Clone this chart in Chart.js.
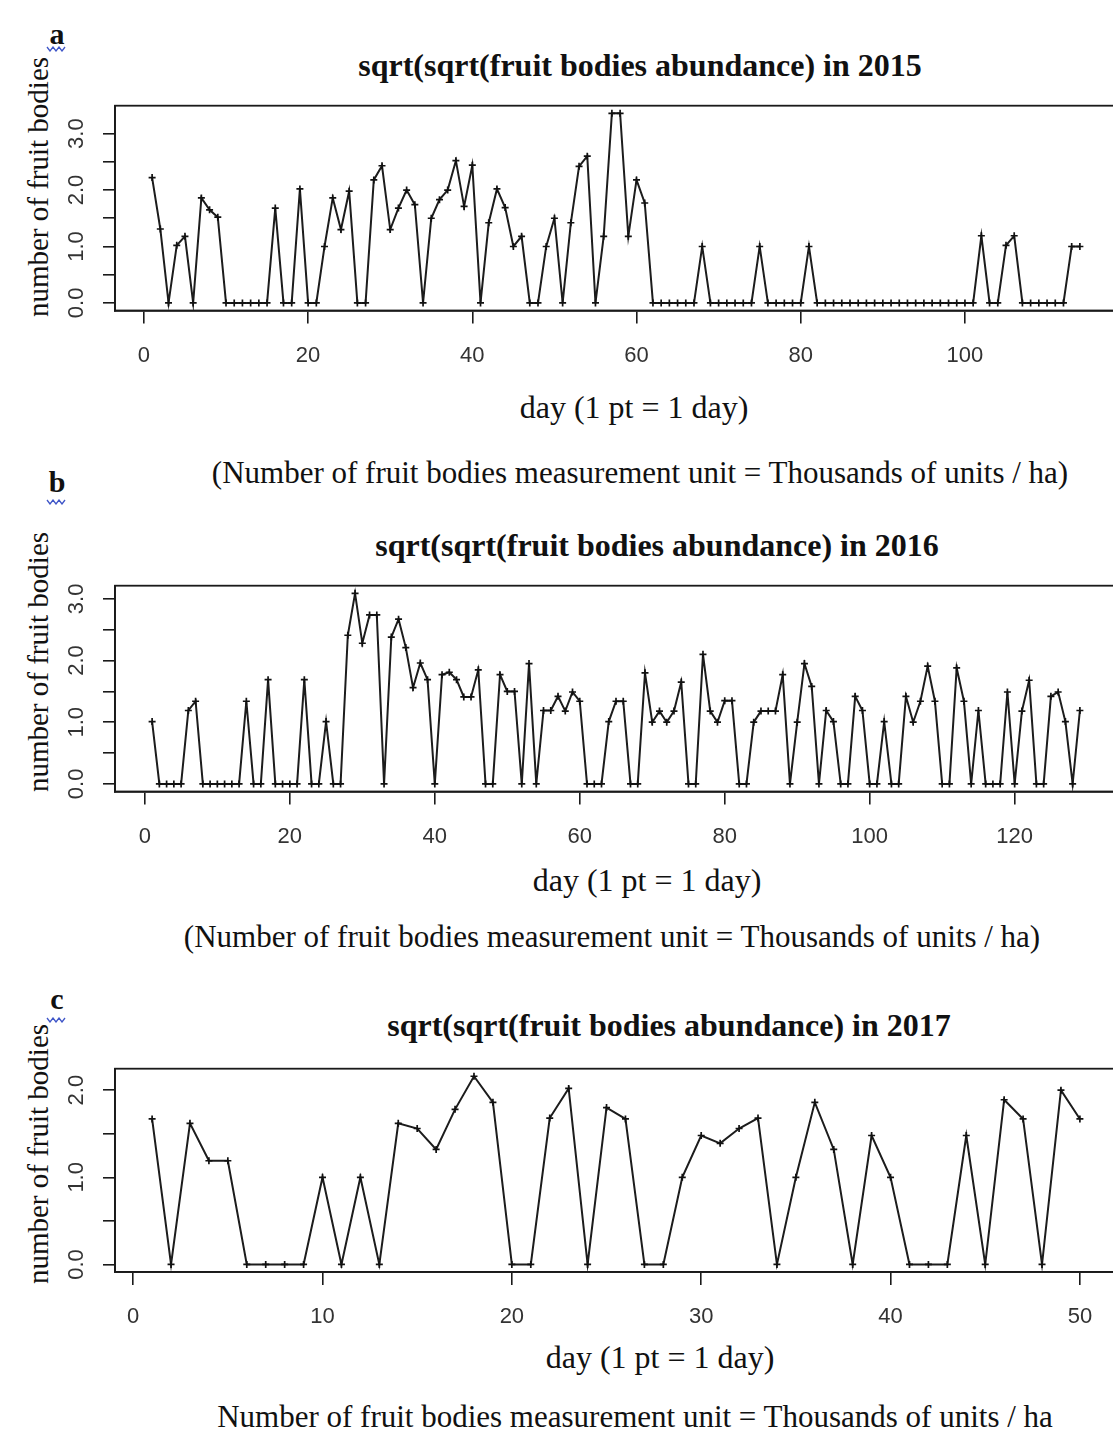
<!DOCTYPE html>
<html>
<head>
<meta charset="utf-8">
<script src="https://cdn.jsdelivr.net/npm/chart.js@4.4.1/dist/chart.umd.min.js"></script>
<style>
  html, body { margin: 0; padding: 0; background: #fff; }
  body { width: 1113px; height: 1437px; position: relative; overflow: hidden; }
  canvas { position: absolute; left: 0; }
  .t { position: absolute; transform: translate(-50%, -50%); white-space: nowrap;
       font-family: "Liberation Serif", "Times New Roman", serif; color: #111; }
  .title { font-weight: bold; font-size: 32px; }
  .panel { font-weight: bold; font-size: 30px; }
  .xlab { font-size: 32px; }
  .note { font-size: 31px; }
  .ylab { font-size: 29px; transform: translate(-50%, -50%) rotate(-90deg); }
  svg.sq { position: absolute; }
</style>
</head>
<body>

<div class="t panel" style="left:57px; top:34px">a</div>
<svg class="sq" style="left:46px; top:46px" width="22" height="6"><polyline points="1,1 4,5 7,1 10,5 13,1 16,5 19,1" fill="none" stroke="#3f56c8" stroke-width="1.3"/></svg>
<div class="t title" style="left:640px; top:65px">sqrt(sqrt(fruit bodies abundance) in 2015</div>
<div class="t ylab" style="left:38px; top:187px">number of fruit bodies</div>
<div class="t xlab" style="left:634px; top:407px">day (1 pt = 1 day)</div>
<div class="t note" style="left:640px; top:473px">(Number of fruit bodies measurement unit = Thousands of units / ha)</div>
<canvas id="chartA" width="1130" height="290" style="top:100px"></canvas>

<div class="t panel" style="left:57px; top:482px">b</div>
<svg class="sq" style="left:46px; top:499px" width="22" height="6"><polyline points="1,1 4,5 7,1 10,5 13,1 16,5 19,1" fill="none" stroke="#3f56c8" stroke-width="1.3"/></svg>
<div class="t title" style="left:657px; top:545px">sqrt(sqrt(fruit bodies abundance) in 2016</div>
<div class="t ylab" style="left:38px; top:662px">number of fruit bodies</div>
<div class="t xlab" style="left:647px; top:880px">day (1 pt = 1 day)</div>
<div class="t note" style="left:612px; top:937px">(Number of fruit bodies measurement unit = Thousands of units / ha)</div>
<canvas id="chartB" width="1130" height="290" style="top:580px"></canvas>

<div class="t panel" style="left:57px; top:999px">c</div>
<svg class="sq" style="left:46px; top:1017px" width="22" height="6"><polyline points="1,1 4,5 7,1 10,5 13,1 16,5 19,1" fill="none" stroke="#3f56c8" stroke-width="1.3"/></svg>
<div class="t title" style="left:669px; top:1025px">sqrt(sqrt(fruit bodies abundance) in 2017</div>
<div class="t ylab" style="left:38px; top:1154px">number of fruit bodies</div>
<div class="t xlab" style="left:660px; top:1357px">day (1 pt = 1 day)</div>
<div class="t note" style="left:635px; top:1417px">Number of fruit bodies measurement unit = Thousands of units / ha</div>
<canvas id="chartC" width="1130" height="290" style="top:1063px"></canvas>

<script>
// daily values, sqrt(sqrt(abundance)), one entry per day starting at day 1
const abundance2015 = [
  2.22, 1.31, 0, 1.02, 1.18, 0, 1.86, 1.65, 1.52, 0,
  0, 0, 0, 0, 0, 1.68, 0, 0, 2.02, 0,
  0, 1.0, 1.86, 1.3, 1.98, 0, 0, 2.18, 2.43, 1.3,
  1.68, 2.0, 1.74, 0, 1.5, 1.83, 2.0, 2.52, 1.71, 2.44,
  0, 1.42, 2.02, 1.69, 1.0, 1.18, 0, 0, 1.0, 1.5,
  0, 1.42, 2.42, 2.6, 0, 1.18, 3.36, 3.36, 1.18, 2.18,
  1.77, 0, 0, 0, 0, 0, 0, 1.0, 0, 0,
  0, 0, 0, 0, 1.0, 0, 0, 0, 0, 0,
  1.0, 0, 0, 0, 0, 0, 0, 0, 0, 0,
  0, 0, 0, 0, 0, 0, 0, 0, 0, 0,
  0, 1.19, 0, 0, 1.02, 1.19, 0, 0, 0, 0,
  0, 0, 1.0, 1.0
];
const abundance2016 = [
  1.01, 0, 0, 0, 0, 1.19, 1.34, 0, 0, 0,
  0, 0, 0, 1.34, 0, 0, 1.69, 0, 0, 0,
  0, 1.69, 0, 0, 1.01, 0, 0, 2.41, 3.09, 2.28,
  2.74, 2.74, 0, 2.38, 2.67, 2.21, 1.56, 1.96, 1.69, 0,
  1.77, 1.81, 1.69, 1.41, 1.41, 1.85, 0, 0, 1.77, 1.5,
  1.5, 0, 1.95, 0, 1.19, 1.19, 1.42, 1.18, 1.49, 1.34,
  0, 0, 0, 1.01, 1.34, 1.34, 0, 0, 1.8, 1.0,
  1.18, 1.0, 1.18, 1.65, 0, 0, 2.1, 1.18, 1.0, 1.35,
  1.35, 0, 0, 1.0, 1.18, 1.18, 1.18, 1.77, 0, 1.0,
  1.95, 1.58, 0, 1.19, 1.01, 0, 0, 1.42, 1.19, 0,
  0, 1.01, 0, 0, 1.42, 1.0, 1.34, 1.91, 1.34, 0,
  0, 1.88, 1.34, 0, 1.19, 0, 0, 0, 1.49, 0,
  1.18, 1.68, 0, 0, 1.42, 1.49, 1.01, 0, 1.19
];
const abundance2017 = [
  1.67, 0, 1.62, 1.19, 1.19, 0, 0, 0, 0, 1.0,
  0, 1.0, 0, 1.62, 1.56, 1.32, 1.78, 2.16, 1.86, 0,
  0, 1.68, 2.02, 0, 1.8, 1.67, 0, 0, 1.0, 1.48,
  1.39, 1.56, 1.68, 0, 1.0, 1.86, 1.32, 0, 1.48, 1.0,
  0, 0, 0, 1.48, 0, 1.89, 1.67, 0, 2.0, 1.67
];

const dayTicksA = [0, 20, 40, 60, 80, 100];
const dayTicksB = [0, 20, 40, 60, 80, 100, 120];
const dayTicksC = [0, 10, 20, 30, 40, 50];
const yTicksA = [0, 0.5, 1, 1.5, 2, 2.5, 3];
const yTicksB = [0, 0.5, 1, 1.5, 2, 2.5, 3];
const yTicksC = [0, 0.5, 1, 1.5, 2];

// box around the plot region plus R-style tick labels (y labels turned 90 degrees)
const frameAndLabels = {
  id: 'frameAndLabels',
  afterDraw(chart) {
    const { ctx, chartArea: a, scales } = chart;
    ctx.save();
    ctx.strokeStyle = '#1a1a1a';
    ctx.lineWidth = 1.8;
    ctx.strokeRect(a.left, a.top, a.right - a.left, a.bottom - a.top);

    ctx.fillStyle = '#333';
    ctx.font = '22px "Liberation Sans", Arial, sans-serif';
    ctx.textAlign = 'center';
    ctx.textBaseline = 'middle';
    scales.x.ticks.forEach(t => {
      ctx.fillText(String(t.value), scales.x.getPixelForValue(t.value), a.bottom + 45);
    });
    scales.y.ticks.forEach(t => {
      if (t.value % 1 !== 0) return;
      ctx.save();
      ctx.translate(a.left - 38, scales.y.getPixelForValue(t.value));
      ctx.rotate(-Math.PI / 2);
      ctx.fillText(t.value.toFixed(1), 0, 0);
      ctx.restore();
    });
    ctx.restore();
  }
};

function drawPanel(id, values, xTicks, yTicks, padTop, plotHeight) {
  const points = values.map((v, i) => ({ x: i + 1, y: v }));
  const n = values.length;
  const ymax = Math.max(...values);
  const xpad = (n - 1) * 0.04, ypad = ymax * 0.04;
  const canvas = document.getElementById(id);

  new Chart(canvas, {
    type: 'line',
    data: {
      datasets: [{
        data: points,
        borderColor: '#1c1c1c',
        borderWidth: 2,
        pointStyle: 'cross',
        pointRadius: 3.5,
        pointBorderWidth: 1.7,
        pointBorderColor: '#111',
        tension: 0,
        fill: false
      }]
    },
    options: {
      responsive: false,
      animation: false,
      devicePixelRatio: 1,
      layout: { padding: { top: padTop, right: 13, left: 0, bottom: 0 } },
      plugins: { legend: { display: false }, tooltip: { enabled: false } },
      scales: {
        x: {
          type: 'linear',
          min: 1 - xpad,
          max: n + xpad,
          afterBuildTicks: s => { s.ticks = xTicks.map(v => ({ value: v })); },
          afterFit: s => { s.height = canvas.height - padTop - plotHeight; },
          ticks: { display: false },
          grid: { drawOnChartArea: false, drawTicks: true, tickLength: 13, color: '#1a1a1a', lineWidth: 1.6 },
          border: { display: true, color: '#1a1a1a', width: 1.8 }
        },
        y: {
          type: 'linear',
          min: -ypad,
          max: ymax + ypad,
          afterBuildTicks: s => { s.ticks = yTicks.map(v => ({ value: v })); },
          afterFit: s => { s.width = 115; },
          ticks: { display: false },
          grid: { drawOnChartArea: false, drawTicks: true, tickLength: 12, color: '#1a1a1a', lineWidth: 1.6 },
          border: { display: true, color: '#1a1a1a', width: 1.8 }
        }
      }
    },
    plugins: [frameAndLabels]
  });
}

drawPanel('chartA', abundance2015, dayTicksA, yTicksA, 4, 206.5);
drawPanel('chartB', abundance2016, dayTicksB, yTicksB, 3.5, 208);
drawPanel('chartC', abundance2017, dayTicksC, yTicksC, 3.5, 205.5);
</script>
</body>
</html>
